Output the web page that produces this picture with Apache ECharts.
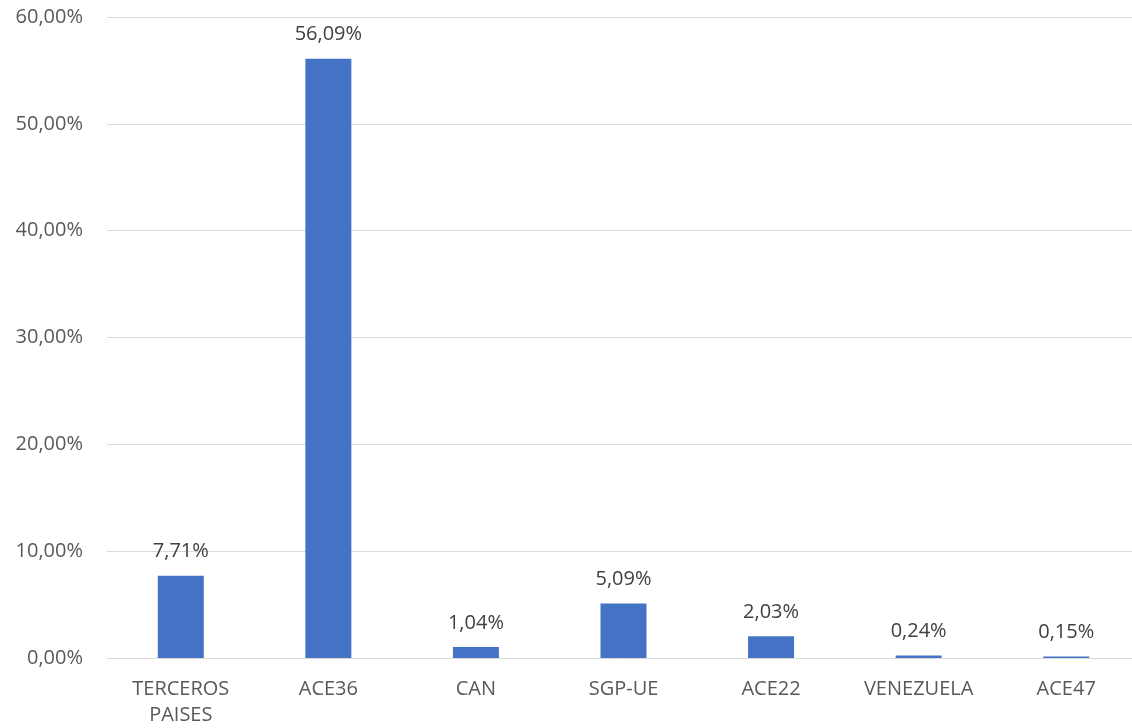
<!DOCTYPE html>
<html>
<head>
<meta charset="utf-8">
<script src="https://cdn.jsdelivr.net/npm/echarts@6/dist/echarts.min.js"></script>
<style>
  html, body { margin: 0; padding: 0; background: #ffffff; overflow: hidden; }
  #chart { width: 1140px; height: 728px; }
</style>
</head>
<body>
<div id="chart"></div>
<script>
const categories = ['TERCEROS\nPAISES', 'ACE36', 'CAN', 'SGP-UE', 'ACE22', 'VENEZUELA', 'ACE47']
const shares = [7.71, 56.09, 1.04, 5.09, 2.03, 0.24, 0.15]

const fmtPct = v => v.toFixed(2).replace('.', ',') + '%'

const chart = echarts.init(document.getElementById('chart'))

chart.setOption({
    animation: false,
    textStyle: { fontFamily: '"Open Sans", "Liberation Sans", sans-serif' },
    grid: { left: 107, right: 0, top: 17, bottom: 66 },
    xAxis: {
        type: 'category',
        data: categories,
        axisLine: { lineStyle: { color: '#d9d9d9', width: 1 } },
        axisTick: { show: false },
        axisLabel: { color: '#595959', fontSize: 20, margin: 18, lineHeight: 26, interval: 0 }
    },
    yAxis: {
        type: 'value',
        min: 0,
        max: 60,
        interval: 10,
        axisLine: { show: false },
        axisTick: { show: false },
        splitLine: { lineStyle: { color: '#d9d9d9', width: 1 } },
        axisLabel: { color: '#595959', fontSize: 20, margin: 24, formatter: v => fmtPct(v) }
    },
    series: [{
        type: 'bar',
        data: shares,
        barWidth: 46,
        itemStyle: { color: '#4472c4' },
        label: {
            show: true,
            position: 'top',
            distance: 14,
            color: '#404040',
            fontSize: 20,
            formatter: p => fmtPct(p.value)
        }
    }]
})
</script>
</body>
</html>
